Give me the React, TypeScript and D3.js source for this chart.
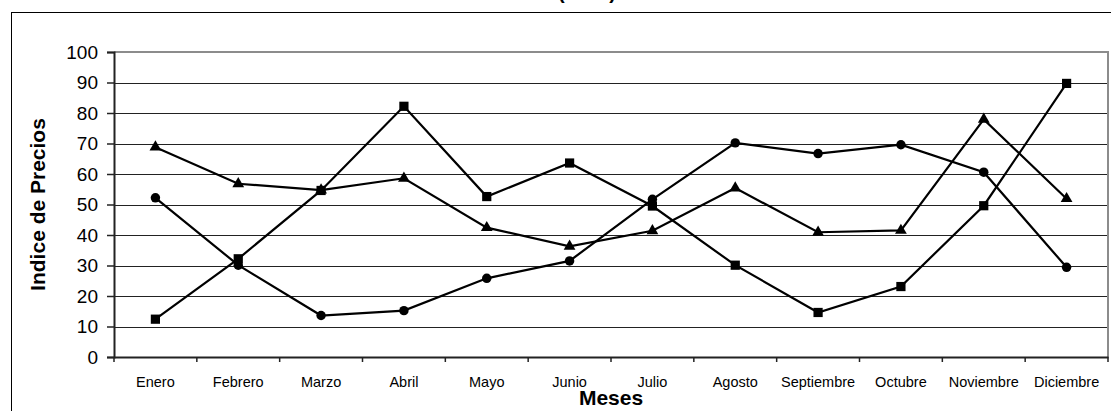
import * as d3 from 'd3'
import { useEffect, useRef } from 'react'

const meses = ['Enero', 'Febrero', 'Marzo', 'Abril', 'Mayo', 'Junio', 'Julio', 'Agosto', 'Septiembre', 'Octubre', 'Noviembre', 'Diciembre']

// three series
const serieCuadrados = [12.4, 32.2, 54.6, 82.2, 52.6, 63.6, 49.5, 30.1, 14.6, 23.1, 49.6, 89.7]
const serieCirculos = [52.2, 30.1, 13.6, 15.2, 25.8, 31.5, 51.7, 70.2, 66.7, 69.6, 60.6, 29.4]
const serieTriangulos = [68.8, 56.8, 54.7, 58.6, 42.4, 36.3, 41.4, 55.4, 40.9, 41.5, 77.9, 51.9]

const yTicks = [0, 10, 20, 30, 40, 50, 60, 70, 80, 90, 100]

export default function App() {
  const svgRef = useRef(null)

  const width = 1111
  const height = 411
  const plot = { left: 114, right: 1108, top: 52, bottom: 357 }

  useEffect(() => {
    const svg = d3.select(svgRef.current)
    svg.selectAll('*').remove()

    const font = '"Liberation Sans", Arial, sans-serif'

    const xScale = d3.scaleBand().domain(meses).range([plot.left, plot.right])
    const yScale = d3.scaleLinear().domain([0, 100]).range([plot.bottom, plot.top])

    svg.append('rect').attr('width', width).attr('height', height).attr('fill', '#fff')

    // outer chart border
    svg.append('rect')
      .attr('x', 11.5).attr('y', 12.5)
      .attr('width', width + 20).attr('height', height + 20)
      .attr('fill', 'none').attr('stroke', '#000').attr('stroke-width', 1)

    // title (mostly cut off at the top)
    svg.append('text')
      .attr('x', 587).attr('y', -1)
      .attr('text-anchor', 'middle')
      .style('font-family', font).style('font-size', '20px').style('font-weight', 'bold')
      .text('(2008)')

    // gridlines
    svg.append('g')
      .selectAll('line')
      .data(yTicks.filter(t => t > 0 && t < 100))
      .enter()
      .append('line')
      .attr('x1', plot.left).attr('x2', plot.right)
      .attr('y1', d => Math.round(yScale(d)) + 0.5)
      .attr('y2', d => Math.round(yScale(d)) + 0.5)
      .attr('stroke', '#222').attr('stroke-width', 1)

    // gray frame top / right
    svg.append('path')
      .attr('d', `M${plot.left},${plot.top}H${plot.right}V${plot.bottom}`)
      .attr('fill', 'none').attr('stroke', '#8c8c8c').attr('stroke-width', 2)

    // y axis
    const yAxis = d3.axisLeft(yScale).tickValues(yTicks).tickSize(7).tickPadding(9)
    const gy = svg.append('g').attr('transform', `translate(${plot.left},0)`).call(yAxis)
    gy.select('.domain').attr('stroke', '#222').attr('stroke-width', 2)
    gy.selectAll('.tick line').attr('stroke', '#222').attr('stroke-width', 1.5)
    gy.selectAll('text')
      .style('font-family', font).style('font-size', '19px').attr('fill', '#000')

    // x axis
    const xAxis = d3.axisBottom(xScale).tickSize(0).tickPadding(20)
    const gx = svg.append('g').attr('transform', `translate(0,${plot.bottom})`).call(xAxis)
    gx.select('.domain').attr('stroke', '#222').attr('stroke-width', 2)
    gx.selectAll('text')
      .style('font-family', font).style('font-size', '14.5px').attr('fill', '#000')

    // x ticks sit between categories
    const bounds = meses.map(m => xScale(m)!).concat([plot.right])
    svg.append('g')
      .selectAll('line')
      .data(bounds)
      .enter()
      .append('line')
      .attr('x1', d => d).attr('x2', d => d)
      .attr('y1', plot.bottom).attr('y2', plot.bottom + 5)
      .attr('stroke', '#222').attr('stroke-width', 1.5)

    // axis titles
    svg.append('text')
      .attr('transform', `translate(45,${(plot.top + plot.bottom) / 2}) rotate(-90)`)
      .attr('text-anchor', 'middle')
      .style('font-family', font).style('font-size', '21px').style('font-weight', 'bold')
      .text('Indice de Precios')

    svg.append('text')
      .attr('x', (plot.left + plot.right) / 2).attr('y', 405)
      .attr('text-anchor', 'middle')
      .style('font-family', font).style('font-size', '21px').style('font-weight', 'bold')
      .text('Meses')

    const cx = (i: number) => xScale(meses[i])! + xScale.bandwidth() / 2
    const line = d3.line<number>().x((_, i) => cx(i)).y(d => yScale(d))

    const series = [
      { data: serieCuadrados, symbol: d3.symbolSquare, size: 85 },
      { data: serieCirculos, symbol: d3.symbolCircle, size: 70 },
      { data: serieTriangulos, symbol: d3.symbolTriangle, size: 60 },
    ]

    series.forEach(s => {
      svg.append('path')
        .datum(s.data)
        .attr('d', line)
        .attr('fill', 'none').attr('stroke', '#000').attr('stroke-width', 2.2)

      svg.append('g')
        .selectAll('path')
        .data(s.data)
        .enter()
        .append('path')
        .attr('d', d3.symbol().type(s.symbol).size(s.size))
        .attr('transform', (d, i) => `translate(${cx(i)},${yScale(d)})`)
        .attr('fill', '#000')
    })
  }, [svgRef])

  return (
    <div style={{ position: 'fixed', left: 0, top: 0 }}>
      <svg ref={svgRef} width={width} height={height} style={{ display: 'block' }}></svg>
    </div>
  )
}
